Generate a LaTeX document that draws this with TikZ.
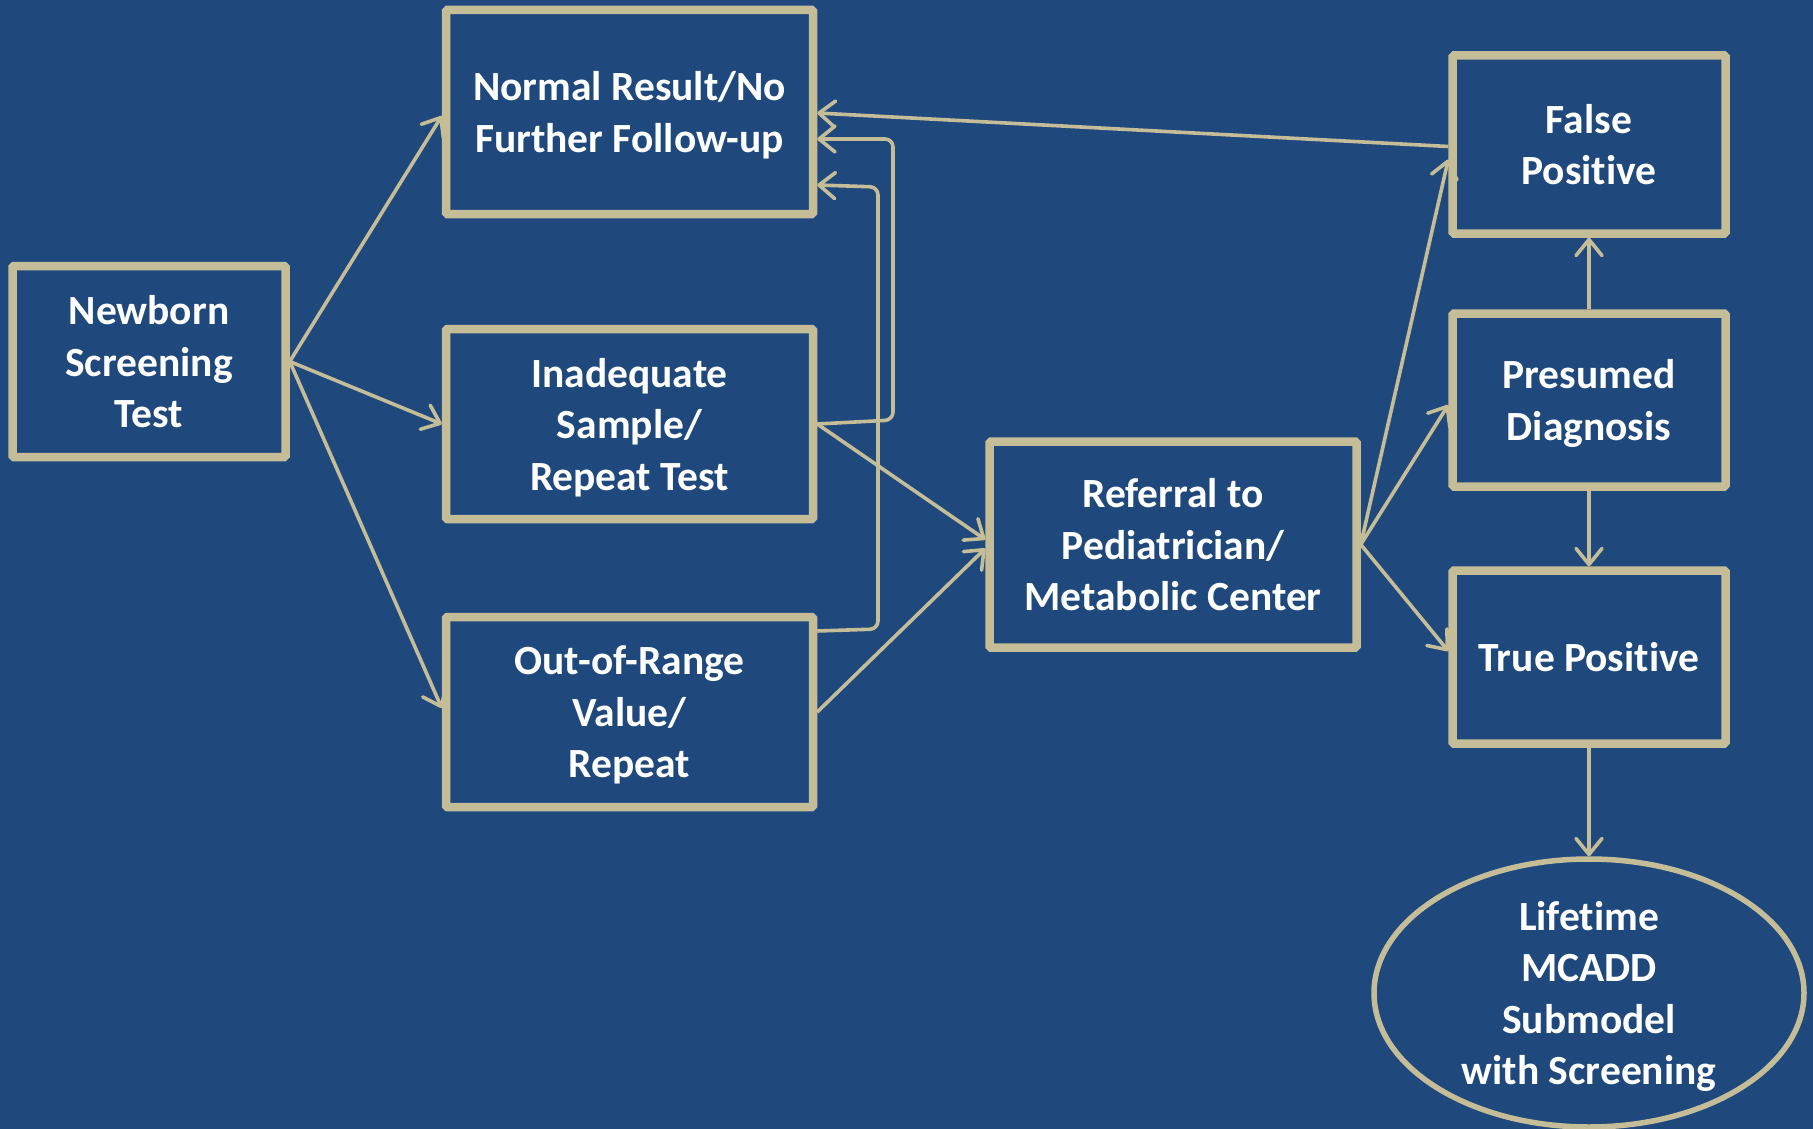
\documentclass[tikz,border=0pt]{standalone}
\usepackage{fontspec}
\setmainfont{Carlito}[Ligatures={NoCommon,NoContextual}]
\usetikzlibrary{arrows.meta,shapes.geometric}
\definecolor{navy}{HTML}{1F497D}
\definecolor{tan}{HTML}{C4BD97}

\begin{document}
\begin{tikzpicture}[x=1pt,y=-1pt,
  label font/.style={font=\fontsize{41.5}{51.5}\selectfont\bfseries,
    text depth=0pt},
  box/.style={draw=tan, line width=8.5pt, fill=navy, text=white, align=center,
    inner sep=0pt, rounded corners=1.5pt, label font},
  endstate/.style={ellipse, draw=tan, line width=5.5pt, fill=navy, text=white,
    align=center, inner sep=0pt, label font},
  link/.style={draw=tan, line width=3.6pt,
    -{Straight Barb[length=16pt,width=26pt,round]}},
]
% canvas
\fill[navy] (0,0) rectangle (1813,1129);
\useasboundingbox (0,0) rectangle (1813,1129);

% states
\node[box, minimum width=273pt, minimum height=191pt] (nbs) at (149,361.5)
  {Newborn\\Screening\\Test};
\node[box, minimum width=367pt, minimum height=204pt] (norm) at (629.5,112)
  {Normal Result/No\\Further Follow-up};
\node[box, minimum width=367pt, minimum height=190pt] (inad) at (629.5,424)
  {Inadequate\\Sample/\\Repeat Test};
\node[box, minimum width=367pt, minimum height=190pt] (oor) at (629.5,712)
  {Out-of-Range\\Value/\\Repeat};
\node[box, minimum width=367pt, minimum height=206pt] (ref) at (1173,544.5)
  {Referral to\\Pediatrician/\\Metabolic Center};
\node[box, minimum width=273pt, minimum height=178pt] (fp) at (1589,144.5)
  {False\\Positive};
\node[box, minimum width=273pt, minimum height=173pt] (pd) at (1589,400)
  {Presumed\\Diagnosis};
\node[box, minimum width=273pt, minimum height=173pt] (tp) at (1589,657)
  {True Positive};
\node[endstate, minimum width=430pt, minimum height=268pt] (life) at (1589,993)
  {Lifetime\\MCADD\\Submodel\\with Screening};

% screening outcomes
\draw[link] (nbs.east) -- ([yshift=-4pt]norm.west);
\draw[link] (nbs.east) -- (inad.west);
\draw[link] (nbs.east) -- ([yshift=4pt]oor.west);

% repeat tests returning to a normal result
\draw[link, rounded corners=8pt] (inad.east) -- (893,420) -- (893,139)
  -- ([yshift=-27pt]norm.east);
\draw[link, rounded corners=8pt] ([yshift=81pt]oor.east) -- (878,629) -- (878,187)
  -- ([yshift=-73pt]norm.east);

% referrals
\draw[link] (inad.east) -- ([yshift=5pt]ref.west);
\draw[link] (oor.east) -- ([yshift=-4pt]ref.west);

% diagnostic outcomes
\draw[link] (ref.east) -- ([yshift=-15pt]fp.west);
\draw[link] (ref.east) -- ([yshift=-5pt]pd.west);
\draw[link] (ref.east) -- ([yshift=6pt]tp.west);
\draw[link] (pd.north) -- (fp.south);
\draw[link] (pd.south) -- (tp.north);
\draw[link] (tp.south) -- (life.north);
\draw[link] ([yshift=-2pt]fp.west) -- ([yshift=-1pt]norm.east);
\end{tikzpicture}
\end{document}
